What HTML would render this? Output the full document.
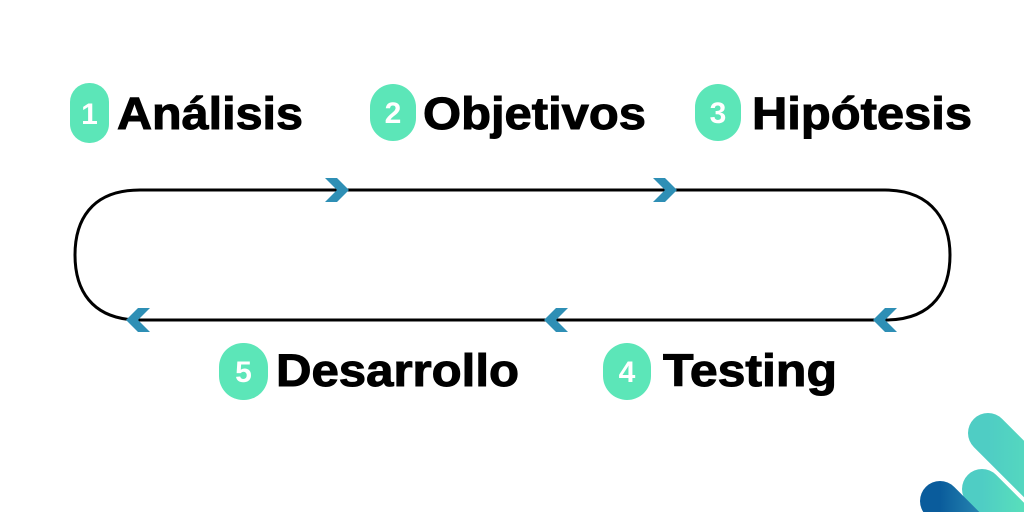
<!DOCTYPE html>
<html><head><style>
html,body{margin:0;background:#fff;width:1024px;height:512px;overflow:hidden;}
svg{display:block}
text{font-family:"Liberation Sans",sans-serif;font-weight:bold;}
</style></head><body>
<svg width="1024" height="512" viewBox="0 0 1024 512" xmlns="http://www.w3.org/2000/svg">
<defs>
<linearGradient id="g1" x1="0" y1="0" x2="1" y2="0"><stop offset="0" stop-color="#4fcdc4"/><stop offset="1" stop-color="#5ce6b8"/></linearGradient>
<linearGradient id="g2" x1="0" y1="0" x2="1" y2="0"><stop offset="0" stop-color="#0a5c9c"/><stop offset="1" stop-color="#2e8fb5"/></linearGradient>
</defs>
<rect width="1024" height="512" fill="#fff"/>
<path d="M140 190 H885 C935 190 950 225 950 255 C950 288 935 320 885 320 H140 C90 320 75 288 75 255 C75 222 90 190 140 190 Z" fill="none" stroke="#000" stroke-width="3"/>
<g fill="#2e8fb5">
<polygon points="325,178 337,178 349,190 337,202 325,202 337,190"/>
<polygon points="653,178 665,178 677,190 665,202 653,202 665,190"/>
<polygon points="150,308 138,308 126,320 138,332 150,332 138,320"/>
<polygon points="568,308 556,308 544,320 556,332 568,332 556,320"/>
<polygon points="897,308 885,308 873,320 885,332 897,332 885,320"/>
</g>
<g fill="#5ce6b8">
<rect x="70" y="83" width="39" height="60" rx="19"/>
<rect x="370" y="84" width="46" height="57" rx="23"/>
<rect x="695" y="84" width="46" height="57" rx="23"/>
<rect x="603" y="343" width="48" height="57" rx="24"/>
<rect x="219" y="343" width="49" height="57" rx="24"/>
</g>
<g fill="#fff" font-size="30" text-anchor="middle">
<text x="89.5" y="124">1</text>
<text x="393" y="123">2</text>
<text x="718" y="123">3</text>
<text x="627" y="382">4</text>
<text x="243.5" y="382">5</text>
</g>
<g fill="#000" font-size="45" stroke="#000" stroke-width="1">
<text x="117" y="129" textLength="186" lengthAdjust="spacingAndGlyphs">Análisis</text>
<text x="423" y="129" textLength="223" lengthAdjust="spacingAndGlyphs">Objetivos</text>
<text x="752" y="129" textLength="220" lengthAdjust="spacingAndGlyphs">Hipótesis</text>
<text x="276" y="386" textLength="243" lengthAdjust="spacingAndGlyphs">Desarrollo</text>
<text x="663" y="386" textLength="174" lengthAdjust="spacingAndGlyphs">Testing</text>
</g>
<g stroke-linecap="round" stroke-width="40">
<line x1="988" y1="433" x2="1080" y2="525" stroke="url(#g1)"/>
<line x1="982" y1="489" x2="1040" y2="547" stroke="url(#g1)"/>
<line x1="940" y1="501" x2="990" y2="551" stroke="url(#g2)"/>
</g>
</svg>
</body></html>
